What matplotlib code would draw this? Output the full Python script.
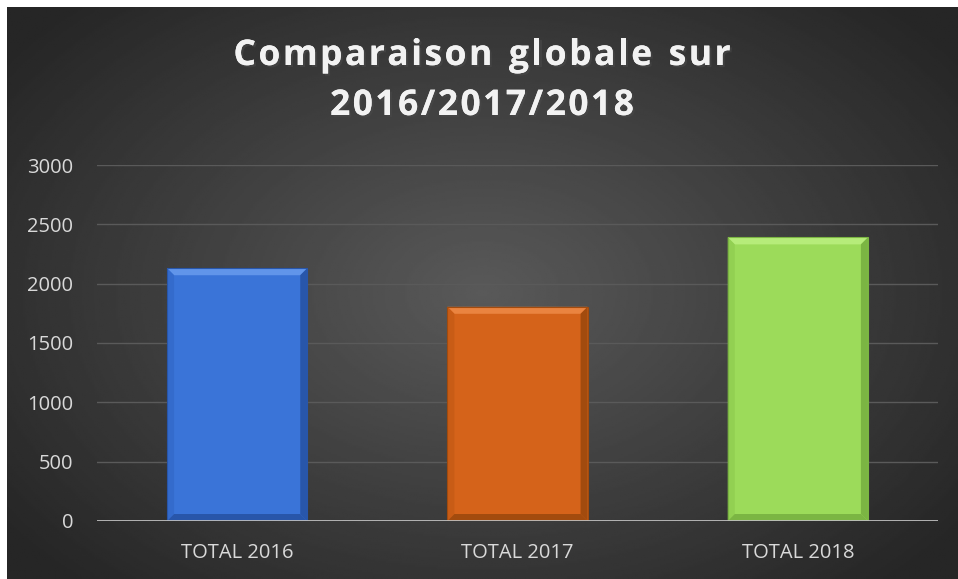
import numpy as np
import matplotlib
matplotlib.use("Agg")
import matplotlib.pyplot as plt
import matplotlib.patheffects as pe

# data
categories = ["TOTAL 2016", "TOTAL 2017", "TOTAL 2018"]
totals = [2130, 1805, 2390]
bar_colors = ["#3a74d8", "#d5631a", "#9cdb5a"]
light_colors = ["#6195ea", "#ea8440", "#b6ec7a"]
side_colors = ["#346bcc", "#c85c16", "#92d052"]
dark_colors = ["#2856aa", "#a24b0e", "#7bb543"]
yticks = [0, 500, 1000, 1500, 2000, 2500, 3000]
title_lines = ["Comparaison globale sur", "2016/2017/2018"]

W, H = 958, 579
fig = plt.figure(figsize=(W / 100, H / 100), dpi=100, facecolor="white")

# dark radial gradient background
bg = fig.add_axes([7 / W, 0, (W - 7) / W, (H - 7) / H])
yy, xx = np.mgrid[-1:1:300j, -1:1:500j]
r = np.sqrt(xx ** 2 + (yy * 0.9) ** 2)
shade = 0.35 - 0.2 * np.clip(r / 1.25, 0, 1)
bg.imshow(shade, cmap="gray", vmin=0, vmax=1, aspect="auto", extent=[0, 1, 0, 1])
bg.set_axis_off()

ax = fig.add_axes([97 / W, 58 / H, 841 / W, 356 / H])
ax.patch.set_alpha(0)
x = np.arange(len(categories))
w = 0.5

ax.bar(x, totals, width=w, color=bar_colors, linewidth=0, zorder=3)

# bevel: light top, darker sides and bottom
bx = 7 / 280.0    # bevel width in data units (x)
by = 7 * 3000 / 356.0
for xi, t, lc, sc, dc in zip(x, totals, light_colors, side_colors, dark_colors):
    l, rgt = xi - w / 2, xi + w / 2
    ax.fill([l, rgt, rgt - bx, l + bx], [t, t, t - by, t - by], color=lc, lw=0, zorder=4)
    ax.fill([l, l + bx, l + bx, l], [t, t - by, by, 0], color=sc, lw=0, zorder=4)
    ax.fill([rgt, rgt - bx, rgt - bx, rgt], [t, t - by, by, 0], color=dc, lw=0, zorder=4)
    ax.fill([l, rgt, rgt - bx, l + bx], [0, 0, by, by], color=dc, lw=0, zorder=4)
    ax.bar(xi, t, width=w, fill=False, edgecolor=dc, linewidth=0.8, zorder=5)

ax.set_xlim(-0.5, 2.5)
ax.set_ylim(0, 3000)
ax.set_yticks(yticks)
ax.set_yticklabels([str(v) for v in yticks])
ax.set_xticks(x)
ax.set_xticklabels(categories)
ax.tick_params(axis="both", length=0, colors="#d9d9d9", labelsize=14.5)
ax.tick_params(axis="y", pad=17)
ax.tick_params(axis="x", pad=16)
for lab in ax.get_xticklabels() + ax.get_yticklabels():
    lab.set_fontfamily("Open Sans")

ax.grid(axis="y", color="#5a5a5a", linewidth=1, zorder=0)
for s in ax.spines.values():
    s.set_visible(False)
ax.axhline(0, color="#bfbfbf", linewidth=2, zorder=6)

# title with extra letter spacing, drawn char by char
renderer = fig.canvas.get_renderer()
tkw = dict(color="#f2f2f2", fontsize=25.5, fontweight="bold", fontfamily="Open Sans",
           va="center", ha="left",
           path_effects=[pe.withSimplePatchShadow(offset=(1.5, -1.5), alpha=0.6), pe.Normal()])
spacing = 2.5  # px between chars
for line, ypix in zip(title_lines, [56, 106]):
    widths = []
    for ch in line:
        tt = fig.text(0, 0, ch if ch != " " else "n", **tkw)
        bb = tt.get_window_extent(renderer)
        widths.append(bb.width * (0.5 if ch == " " else 1))
        tt.remove()
    total = sum(widths) + spacing * (len(line) - 1)
    xpos = 482 - total / 2
    for ch, cw in zip(line, widths):
        if ch != " ":
            fig.text(xpos / W, 1 - ypix / H, ch, **tkw)
        xpos += cw + spacing

fig.savefig("out.png", dpi=100, facecolor="white")
